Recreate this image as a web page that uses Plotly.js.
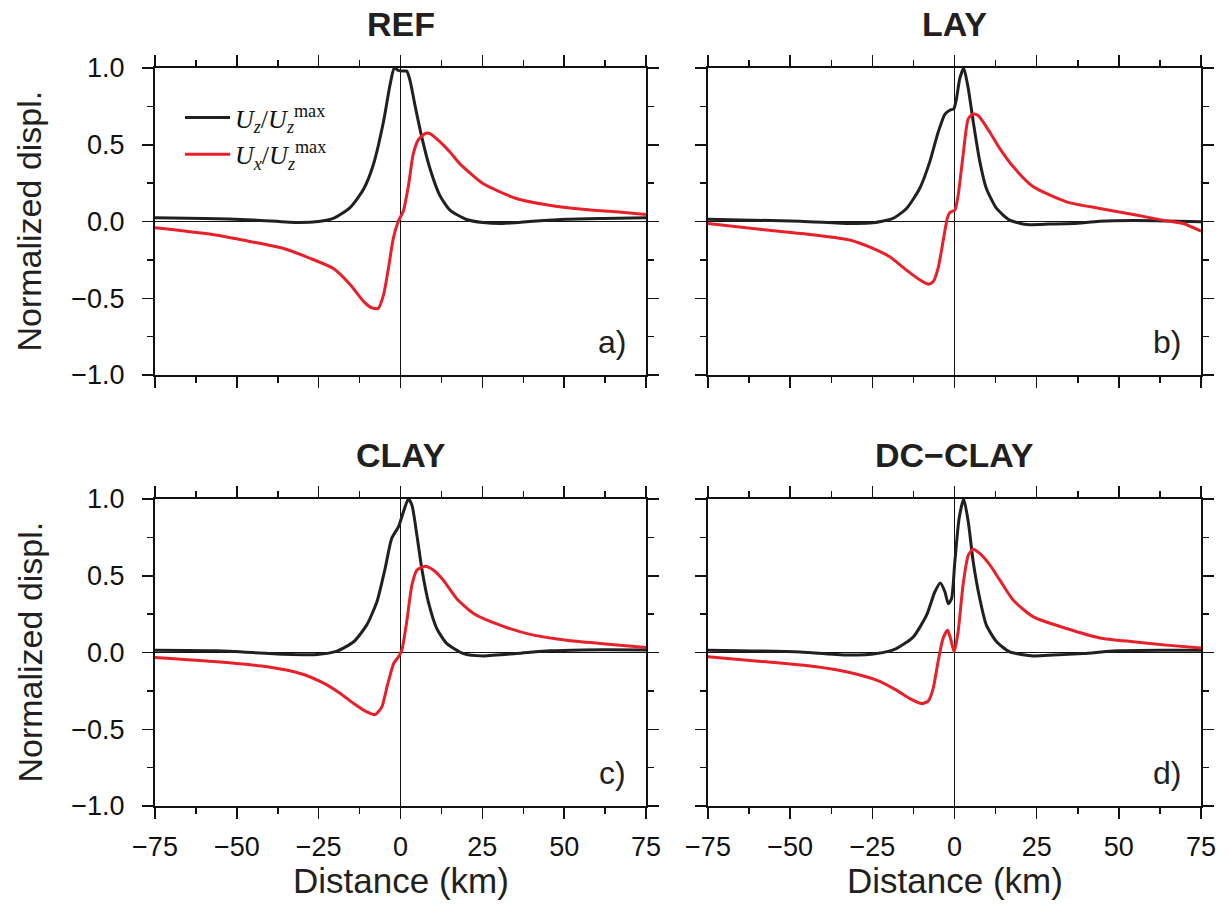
<!DOCTYPE html>
<html>
<head>
<meta charset="utf-8">
<script src="https://cdn.plot.ly/plotly-3.0.1.min.js"></script>
<style>html,body{margin:0;padding:0;background:#fff;}#chart{width:1229px;height:920px;}</style>
</head>
<body>
<div id="chart"></div>
<script>
// ---- Data (distance in km, normalized displacement) ----
const panelTitles = ["REF", "LAY", "CLAY", "DC\u2212CLAY"];
const panelLabels = ["a)", "b)", "c)", "d)"];
const xTickVals = [-75, -50, -25, 0, 25, 50, 75];
const yTickVals = [-1.0, -0.5, 0.0, 0.5, 1.0];

// REF
const refUzX = [-75,-60,-45,-31,-25,-20.5,-15.4,-11.3,-8.3,-5.2,-3.2,-1.9,-0.7,0.9,1.9,2.9,4.4,6.4,9.0,12.0,15.1,20.2,25.2,31.3,40.5,50.6,62,75];
const refUz  = [0.024,0.02,0.01,-0.007,0.0,0.02,0.09,0.21,0.37,0.65,0.89,1.0,0.985,0.98,0.98,0.92,0.76,0.56,0.345,0.17,0.074,0.013,-0.007,-0.013,0.002,0.015,0.02,0.024];
const refUxX = [-75,-56,-46,-35.7,-27.6,-20.5,-15.4,-11.3,-8.8,-6.8,-5.2,-3.7,-2.2,-0.7,0.9,2.4,3.9,5.4,7.5,9.0,12,15.1,18.1,25.2,35.4,45.5,55.7,65.9,75];
const refUx  = [-0.041,-0.089,-0.13,-0.176,-0.24,-0.306,-0.41,-0.52,-0.562,-0.566,-0.48,-0.306,-0.11,0.0,0.07,0.23,0.44,0.53,0.573,0.573,0.52,0.453,0.377,0.247,0.15,0.106,0.08,0.063,0.046];

// LAY
const layUzX = [-75,-47,-31.9,-24.8,-18.7,-14.6,-10.6,-7.5,-5.0,-2.9,-1.4,-0.2,0.6,1.6,2.8,4.2,5.7,7.7,9.7,12.8,16.8,21.9,29,36.1,44.2,54.4,64.5,75];
const layUz  = [0.015,0.002,-0.013,-0.009,0.02,0.085,0.215,0.39,0.58,0.70,0.725,0.735,0.80,0.93,1.0,0.865,0.65,0.39,0.215,0.085,0.009,-0.02,-0.017,-0.013,0.002,0.007,0.004,-0.002];
const layUxX = [-75,-57.2,-42,-31.9,-24.8,-19.7,-14.6,-10.6,-8.0,-6.5,-5.0,-3.5,-2.2,-1.4,0.1,1.1,2.6,4.2,5.7,7.2,10.8,13.8,17.9,24,34.1,44.2,54.4,64.5,69.6,75];
const layUx  = [-0.013,-0.056,-0.089,-0.12,-0.175,-0.23,-0.317,-0.38,-0.408,-0.393,-0.306,-0.132,0.02,0.059,0.074,0.17,0.43,0.67,0.70,0.69,0.58,0.475,0.356,0.226,0.128,0.085,0.046,0.004,-0.013,-0.063];

// CLAY
const clayUzX = [-75,-56,-35.7,-25.5,-19.4,-14.3,-10.3,-7.2,-4.7,-2.7,-0.6,0.9,2.4,3.5,5.0,6.5,8.5,11.1,14.1,19.2,25.3,35.4,45.6,55.8,75];
const clayUz  = [0.015,0.011,-0.011,-0.013,0.009,0.07,0.18,0.33,0.547,0.743,0.82,0.917,1.0,0.96,0.765,0.547,0.33,0.156,0.059,-0.007,-0.022,-0.007,0.011,0.017,0.017];
const clayUxX = [-75,-56,-40.7,-30.6,-23.5,-18.4,-14.3,-10.3,-7.7,-5.7,-4.0,-2.1,-0.6,0.4,1.9,3.5,5.0,7.5,10.1,13.1,17.2,22.3,30.4,40.6,50.7,60.9,75];
const clayUx  = [-0.033,-0.061,-0.093,-0.137,-0.2,-0.267,-0.332,-0.387,-0.404,-0.354,-0.213,-0.072,-0.028,0.015,0.2,0.44,0.536,0.562,0.536,0.471,0.35,0.254,0.178,0.113,0.08,0.059,0.033];

// DC-CLAY
const dcUzX = [-75,-47,-31.9,-23.7,-17.7,-12.6,-8.5,-6.0,-4.3,-2.9,-1.9,-0.9,0.1,1.4,2.8,4.2,5.7,7.7,9.7,12.8,16.8,24,30,39.2,49.3,64.5,75];
const dcUz  = [0.015,0.004,-0.017,-0.007,0.026,0.1,0.243,0.394,0.453,0.394,0.318,0.35,0.59,0.873,1.0,0.85,0.59,0.35,0.178,0.07,0.004,-0.022,-0.017,-0.007,0.011,0.015,0.015];
const dcUxX = [-75,-57.2,-42,-31.9,-23.7,-17.7,-13.6,-10.0,-8.0,-6.5,-5.0,-3.5,-2.1,-1.2,-0.1,1.1,2.6,4.2,5.7,7.7,10.8,13.8,17.9,24,34.1,44.2,54.4,64.5,75];
const dcUx  = [-0.028,-0.061,-0.093,-0.13,-0.18,-0.245,-0.3,-0.332,-0.317,-0.235,-0.06,0.091,0.145,0.091,0.004,0.135,0.44,0.634,0.673,0.645,0.569,0.471,0.34,0.232,0.156,0.095,0.07,0.048,0.03];

const seriesNames = [
  "<i>U</i><sub><i>z</i></sub>/<i>U</i><sub><i>z</i></sub><sup>max</sup>",
  "<i>U</i><sub><i>x</i></sub>/<i>U</i><sub><i>z</i></sub><sup>max</sup>"
];

// ---- Styling ----
const W = 1229, H = 920;
const BLACK = "#231f20", RED = "#e8202a";
const panels = [
  {uzX: refUzX, uz: refUz, uxX: refUxX, ux: refUx},
  {uzX: layUzX, uz: layUz, uxX: layUxX, ux: layUx},
  {uzX: clayUzX, uz: clayUz, uxX: clayUxX, ux: clayUx},
  {uzX: dcUzX, uz: dcUz, uxX: dcUxX, ux: dcUx}
];
// pixel frames of each panel [left, right, top, bottom]
const frames = [[155,646,68,375],[708,1201,68,375],[155,646,499,806],[708,1201,499,806]];

const traces = [];
const layout = {
  width: W, height: H,
  margin: {l:0, r:0, t:0, b:0},
  paper_bgcolor: "#fff", plot_bgcolor: "#fff",
  font: {family: "Liberation Sans, Arial, sans-serif", color: "#111"},
  showlegend: true,
  legend: {
    x: 180/W, y: 1 - 94/H, xanchor: "left", yanchor: "top",
    bgcolor: "rgba(0,0,0,0)", borderwidth: 0, itemwidth: 45,
    font: {family: "Liberation Serif, DejaVu Serif, serif", size: 26, color: "#111"},
    tracegroupgap: 0
  },
  annotations: [],
  hovermode: false
};

panels.forEach((p, i) => {
  const k = i === 0 ? "" : String(i + 1);
  traces.push({
    x: p.uzX, y: p.uz, xaxis: "x" + k, yaxis: "y" + k, type: "scatter", mode: "lines",
    line: {color: BLACK, width: 3, shape: "spline", smoothing: 0.6},
    name: seriesNames[0], showlegend: i === 0
  });
  traces.push({
    x: p.uxX, y: p.ux, xaxis: "x" + k, yaxis: "y" + k, type: "scatter", mode: "lines",
    line: {color: RED, width: 3, shape: "spline", smoothing: 0.6},
    name: seriesNames[1], showlegend: i === 0
  });
  const f = frames[i];
  const common = {
    showline: true, linecolor: "#111", linewidth: 2, mirror: "allticks",
    ticks: "outside", ticklen: 11, tickwidth: 1.5, tickcolor: "#111",
    showgrid: false, zeroline: true, zerolinecolor: "#111", zerolinewidth: 1,
    tickfont: {family: "Liberation Sans, Arial, sans-serif", size: 27, color: "#111"},
    fixedrange: true
  };
  layout["xaxis" + k] = Object.assign({}, common, {
    domain: [f[0]/W, f[1]/W], anchor: "y" + k, range: [-75, 75],
    tickmode: "array", tickvals: xTickVals, ticktext: xTickVals.map(v => v < 0 ? "\u2212" + Math.abs(v) : String(v)),
    showticklabels: i >= 2, ticklabelstandoff: 5,
    minor: {ticks: "outside", ticklen: 6, tickwidth: 1.5, tickcolor: "#111", dtick: 12.5, tick0: 0, showgrid: false}
  });
  layout["yaxis" + k] = Object.assign({}, common, {
    domain: [1 - f[3]/H, 1 - f[2]/H], anchor: "x" + k, range: [-1, 1],
    tickmode: "array", tickvals: yTickVals, ticktext: yTickVals.map(v => (v < 0 ? "\u2212" : "") + Math.abs(v).toFixed(1)),
    showticklabels: i % 2 === 0, ticklabelstandoff: 12,
    minor: {ticks: "outside", ticklen: 6, tickwidth: 1.5, tickcolor: "#111", dtick: 0.25, tick0: 0, showgrid: false}
  });
  // panel title
  layout.annotations.push({
    text: "<b>" + panelTitles[i] + "</b>", xref: "paper", yref: "paper",
    x: (f[0] + f[1]) / 2 / W, y: 1 - (f[2] - 44) / H, xanchor: "center", yanchor: "middle",
    showarrow: false, font: {size: 34, family: "Liberation Sans, Arial, sans-serif", color: "#231f20"}
  });
  // panel letter
  layout.annotations.push({
    text: panelLabels[i], xref: "paper", yref: "paper",
    x: (f[1] - 18) / W, y: 1 - (f[3] - 33) / H, xanchor: "right", yanchor: "middle",
    showarrow: false, font: {size: 32, family: "Liberation Sans, Arial, sans-serif", color: "#231f20"}
  });
  // axis titles
  if (i % 2 === 0) {
    layout.annotations.push({
      text: "Normalized displ.", xref: "paper", yref: "paper", textangle: -90,
      x: 29 / W, y: 1 - ((f[2] + f[3]) / 2) / H, xanchor: "center", yanchor: "middle",
      showarrow: false, font: {size: 34, family: "Liberation Sans, Arial, sans-serif", color: "#231f20"}
    });
  }
  if (i >= 2) {
    layout.annotations.push({
      text: "Distance (km)", xref: "paper", yref: "paper",
      x: (f[0] + f[1]) / 2 / W, y: 1 - 880 / H, xanchor: "center", yanchor: "middle",
      showarrow: false, font: {size: 35, family: "Liberation Sans, Arial, sans-serif", color: "#231f20"}
    });
  }
});

Plotly.newPlot("chart", traces, layout, {staticPlot: true, displayModeBar: false});
</script>
</body>
</html>
